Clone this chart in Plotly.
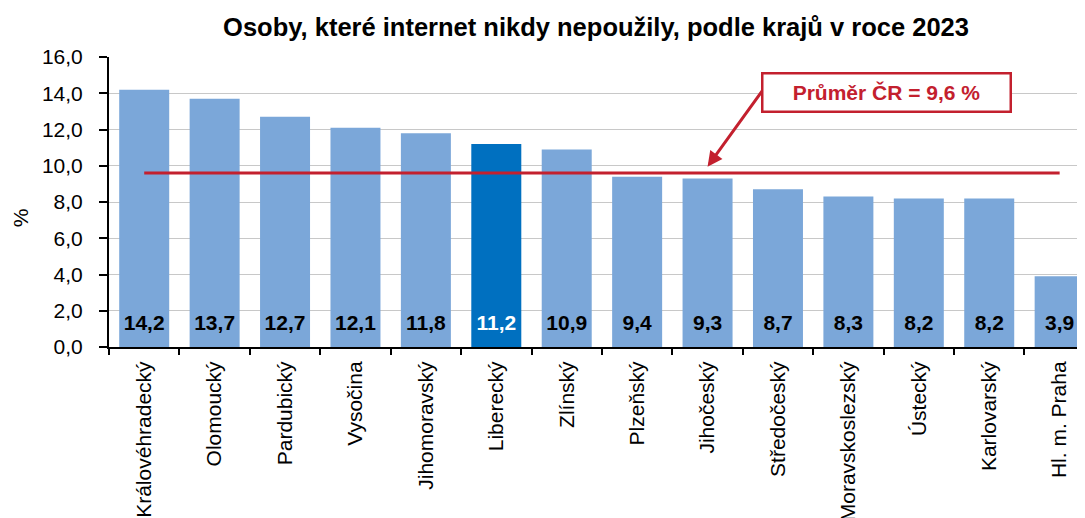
import plotly.graph_objects as go

regions = ["Královéhradecký", "Olomoucký", "Pardubický", "Vysočina", "Jihomoravský",
           "Liberecký", "Zlínský", "Plzeňský", "Jihočeský", "Středočeský",
           "Moravskoslezský", "Ústecký", "Karlovarský", "Hl. m. Praha"]
values = [14.2, 13.7, 12.7, 12.1, 11.8, 11.2, 10.9, 9.4, 9.3, 8.7, 8.3, 8.2, 8.2, 3.9]
highlight = "Liberecký"
average = 9.6
y_ticks = [0, 2, 4, 6, 8, 10, 12, 14, 16]
y_tick_labels = ["0,0", "2,0", "4,0", "6,0", "8,0", "10,0", "12,0", "14,0", "16,0"]

LIGHT = "#7BA7D9"
DARK = "#0070C0"
RED = "#C3202E"
FONT = "Liberation Sans, Arial, sans-serif"
label_y = 1.23

colors = [DARK if r == highlight else LIGHT for r in regions]
label_colors = ["white" if r == highlight else "black" for r in regions]
labels = [f"{v:.1f}".replace(".", ",") for v in values]

fig = go.Figure()
fig.add_trace(go.Bar(x=regions, y=values, marker=dict(color=colors, line=dict(width=0)),
                     hoverinfo="x+y", showlegend=False))
fig.add_trace(go.Scatter(x=regions, y=[label_y] * len(regions), mode="text", text=labels,
                         textfont=dict(family=FONT, size=21, color=label_colors, weight="bold"),
                         hoverinfo="skip", showlegend=False, cliponaxis=False))
fig.add_trace(go.Scatter(x=regions, y=[average] * len(regions), mode="lines",
                         line=dict(color=RED, width=3), hoverinfo="skip", showlegend=False))

avg_text = f"Průměr ČR = {average:.1f} %".replace(".", ",")
# arrow
fig.add_annotation(x="Jihočeský", y=9.95, xref="x", yref="y", text="", showarrow=True,
                   ax=57, ay=-79, arrowhead=2, arrowsize=1, arrowwidth=3, arrowcolor=RED)
# box
fig.add_annotation(x=10.54, y=14.03, xref="x", yref="y", text=f"<b>{avg_text}</b>",
                   showarrow=False, font=dict(family=FONT, size=21, color=RED),
                   bgcolor="white", bordercolor=RED, borderwidth=2.5, borderpad=3,
                   width=240, height=30)
# y axis title
fig.add_annotation(x=-0.105, y=0.444, xref="paper", yref="paper", text="%",
                   showarrow=False, textangle=-90, font=dict(family=FONT, size=21, color="black"))

fig.update_layout(
    width=1077, height=510,
    margin=dict(l=100.5, r=0, t=49, b=170.7),
    paper_bgcolor="white", plot_bgcolor="white",
    bargap=0.29,
    title=dict(text="<b>Osoby, které internet nikdy nepoužily, podle krajů v roce 2023</b>",
               x=0.546, xanchor="center", y=0.9627, yanchor="middle",
               font=dict(family=FONT, size=25.5, color="black")),
    font=dict(family=FONT, color="black"),
)
fig.update_xaxes(range=[-0.5, 13.36], tickangle=-90, tickfont=dict(family=FONT, size=21),
                 showline=True, linecolor="black", linewidth=2, ticks="outside",
                 tickson="boundaries", ticklen=6, tickwidth=1.5, tickcolor="black",
                 showgrid=False, fixedrange=True, automargin=False, ticklabelstandoff=4)
fig.update_yaxes(range=[0, 16], tickvals=y_ticks, ticktext=y_tick_labels,
                 tickfont=dict(family=FONT, size=21), showline=True, linecolor="black",
                 linewidth=2, ticks="outside", ticklen=8, tickwidth=1.5, tickcolor="black",
                 showgrid=True, gridcolor="#C8C8C8", gridwidth=1, zeroline=False,
                 automargin=False, ticklabelstandoff=12)

fig.write_html("out.html")
